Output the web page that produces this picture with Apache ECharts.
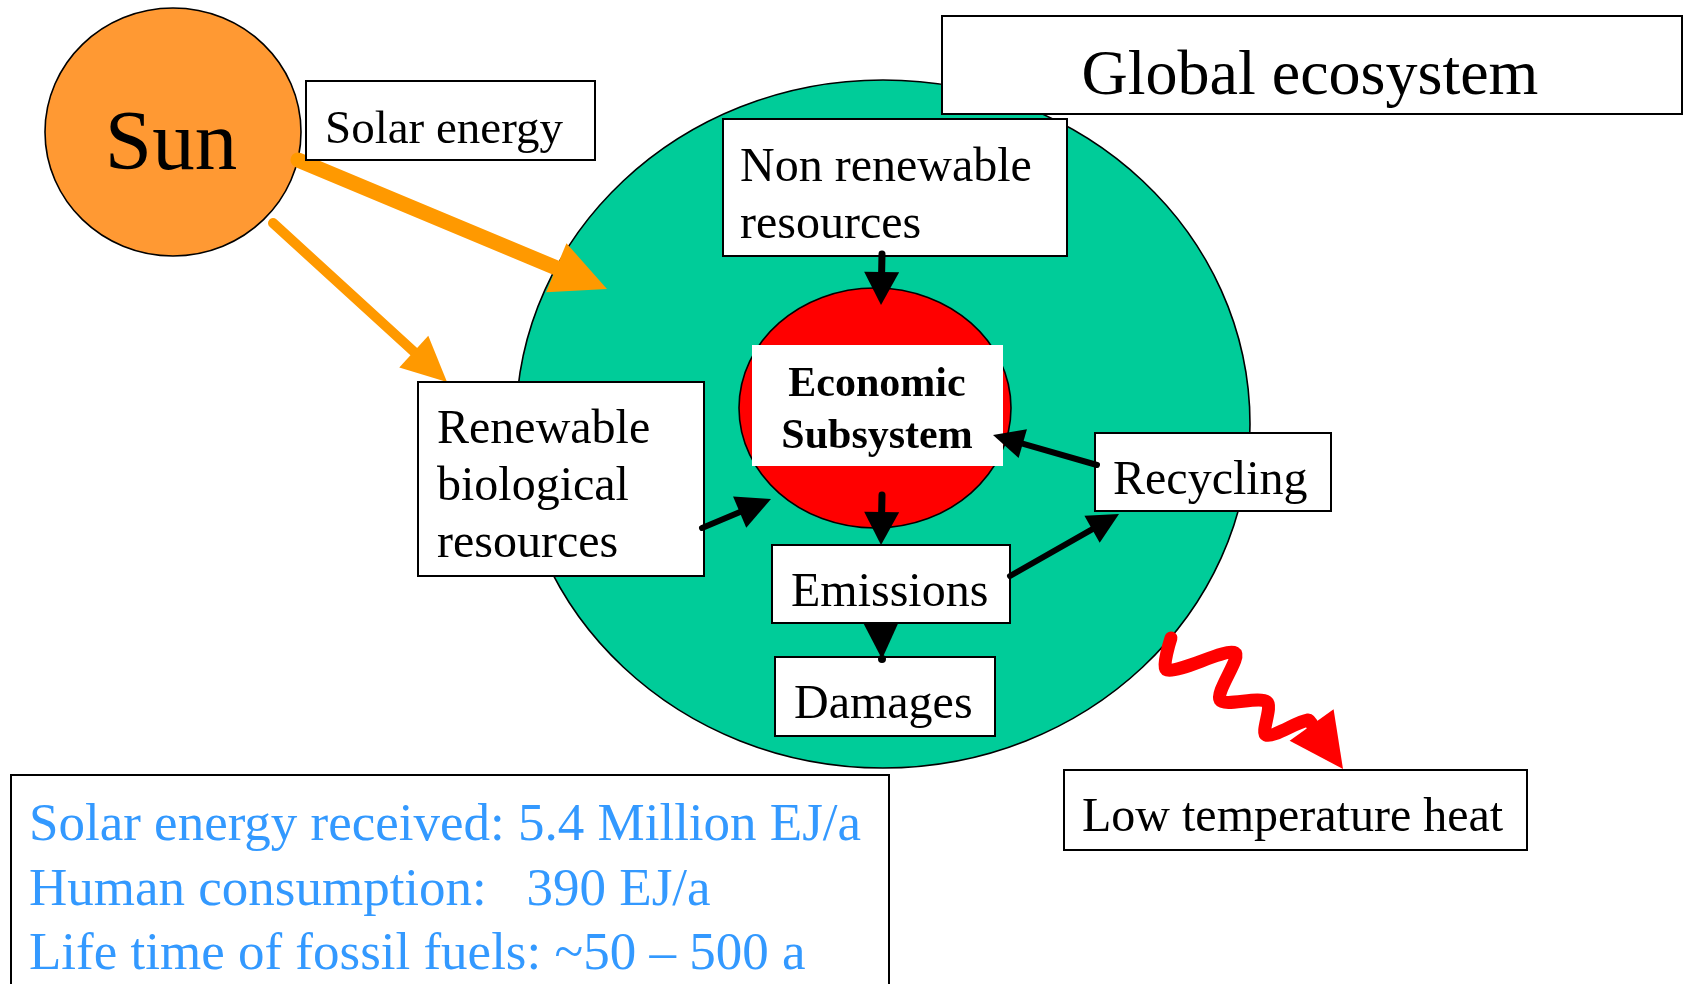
<!DOCTYPE html>
<html>
<head>
<meta charset="utf-8">
<title>Global ecosystem</title>
<script src="https://cdn.jsdelivr.net/npm/echarts@6/dist/echarts.min.js"></script>
<style>
  html, body { margin: 0; padding: 0; background: #fff; }
  #main { width: 1685px; height: 984px; }
</style>
</head>
<body>
<div id="main"></div>
<script>
  // ---- texts of the diagram ----
  const sunLabel = 'Sun'
  const titleLabel = 'Global ecosystem'
  const coreLines = ['Economic', 'Subsystem']
  const boxNames = ['solar', 'nonRenew', 'renew', 'recycling', 'emissions', 'damages', 'heat']
  const boxLines = [
    ['Solar energy'],
    ['Non renewable', 'resources'],
    ['Renewable', 'biological', 'resources'],
    ['Recycling'],
    ['Emissions'],
    ['Damages'],
    ['Low temperature heat']
  ]
  const infoLines = [
    'Solar energy received: 5.4 Million EJ/a',
    'Human consumption:   390 EJ/a',
    'Life time of fossil fuels: ~50 \u2013 500 a'
  ]
  // flows drawn as arrows: [from, to]
  const flows = [
    ['sun', 'ecosystem'],
    ['sun', 'renew'],
    ['nonRenew', 'core'],
    ['core', 'emissions'],
    ['emissions', 'damages'],
    ['renew', 'core'],
    ['recycling', 'core'],
    ['emissions', 'recycling'],
    ['ecosystem', 'heat']
  ]

  // ---- layout (page pixels, y down) ----
  const W = 1685, H = 984
  const serif = '"Liberation Serif", "Times New Roman", serif'
  const ellipses = {
    ecosystem: {cx: 883, cy: 424, rx: 367, ry: 344, fill: '#00CC99'},
    sun: {cx: 173, cy: 132, rx: 128, ry: 124, fill: '#FF9933'},
    core: {cx: 875, cy: 408, rx: 136, ry: 120, fill: '#FF0000'}
  }
  const boxRects = {
    title: [942, 16, 740, 98],
    solar: [306, 81, 289, 79],
    nonRenew: [723, 119, 344, 137],
    core: [752, 345, 251, 121],
    renew: [418, 382, 286, 194],
    recycling: [1095, 433, 236, 78],
    emissions: [772, 545, 238, 78],
    damages: [775, 657, 220, 79],
    heat: [1064, 770, 463, 80],
    info: [11, 775, 878, 230]
  }
  // [left x, baselines, font size]
  const boxText = {
    solar: [325, [141], 47],
    nonRenew: [740, [179, 236], 48],
    renew: [437, [441, 498, 555], 48],
    recycling: [1113, [492], 48],
    emissions: [791, [604], 48],
    damages: [794, [716], 48],
    heat: [1082, [829], 48]
  }
  const flowPaths = [
    {pts: [[298, 160], [607, 289]], w: 15, head: [55, 53], color: '#FF9900'},
    {pts: [[273, 223], [447, 382]], w: 10, head: [45, 43], color: '#FF9900'},
    {pts: [[882, 254], [881, 305]], w: 7, head: [33, 35], color: '#000'},
    {pts: [[882, 495], [881, 545]], w: 7, head: [33, 35], color: '#000'},
    {pts: [[881, 623], [882, 659]], w: 0, head: [36, 35], color: '#000', dot: true},
    {pts: [[702, 528], [771, 499]], w: 6, head: [34, 34], color: '#000'},
    {pts: [[1097, 465], [993, 435]], w: 6, head: [31, 30], color: '#000'},
    {pts: [[1010, 576], [1119, 514]], w: 6, head: [31, 31], color: '#000'},
    {pts: [[1171, 638], [1167, 670], [1235, 653], [1220, 700], [1267, 702], [1266, 735], [1308, 720], [1343, 769]],
      w: 13, head: [54, 54], color: '#FF0000', smooth: 0.3}
  ]

  // ---- build the ordered list of marks ----
  let elements = []
  const addBox = (key, fill, stroke) => elements.push({kind: 'box', r: boxRects[key], fill: fill, stroke: stroke})
  const addText = (text, x, y, size, opt) => elements.push(Object.assign({kind: 'text', text: text, x: x, y: y, size: size, weight: 'normal', color: '#000', align: 'left'}, opt || {}))
  const addArrow = i => elements.push(Object.assign({kind: 'arrow'}, flowPaths[i]))

  elements.push(Object.assign({kind: 'ellipse'}, ellipses.ecosystem))
  elements.push(Object.assign({kind: 'ellipse'}, ellipses.sun))
  addText(sunLabel, 171, 166, 85, {align: 'center'})
  flows.forEach((f, i) => { if (f[0] === 'sun') addArrow(i) })
  addBox('title', '#fff', '#000')
  addText(titleLabel, 1310, 92, 64, {align: 'center'})
  elements.push(Object.assign({kind: 'ellipse'}, ellipses.core))
  addBox('core', '#fff', null)
  coreLines.forEach((t, i) => addText(t, 877, [395, 447][i], 42, {align: 'center', weight: 'bold'}))
  boxNames.forEach((name, i) => {
    addBox(name, '#fff', '#000')
    const bt = boxText[name]
    boxLines[i].forEach((t, j) => addText(t, bt[0], bt[1][j], bt[2]))
  })
  flows.forEach((f, i) => { if (f[0] !== 'sun') addArrow(i) })
  addBox('info', '#fff', '#000')
  infoLines.forEach((t, i) => addText(t, 29, [838, 903, 967][i], 53, {color: '#3399FF'}))

  // ---- rendering through the chart's own axes ----
  function arrowParts(api, a) {
    const n = a.pts.length
    const tip = a.pts[n - 1], prev = a.pts[n - 2]
    const dx = tip[0] - prev[0], dy = tip[1] - prev[1]
    const d = Math.hypot(dx, dy), ux = dx / d, uy = dy / d
    const bx = tip[0] - ux * a.head[0], by = tip[1] - uy * a.head[0]
    const hw = a.head[1] / 2
    const parts = []
    if (a.w) {
      const line = a.pts.slice(0, n - 1).concat([[bx + ux * 3, by + uy * 3]]).map(p => api.coord(p))
      parts.push({type: 'polyline', shape: {points: line, smooth: a.smooth || 0},
        style: {stroke: a.color, lineWidth: a.w, fill: 'none', lineCap: 'round', lineJoin: 'round'}})
    }
    const head = [tip, [bx - uy * hw, by + ux * hw], [bx + uy * hw, by - ux * hw]].map(p => api.coord(p))
    parts.push({type: 'polygon', shape: {points: head}, style: {fill: a.color}})
    if (a.dot) {
      const c = api.coord(tip)
      parts.push({type: 'circle', shape: {cx: c[0], cy: c[1], r: 4}, style: {fill: a.color}})
    }
    return parts
  }

  function renderItem(params, api) {
    const e = elements[params.dataIndex]
    if (e.kind === 'ellipse') {
      const c = api.coord([e.cx, e.cy])
      const s = api.size([e.rx, e.ry])
      return {type: 'ellipse', shape: {cx: c[0], cy: c[1], rx: s[0], ry: s[1]},
        style: {fill: e.fill, stroke: '#000', lineWidth: 1.6}}
    }
    if (e.kind === 'box') {
      const p = api.coord([e.r[0], e.r[1]])
      const s = api.size([e.r[2], e.r[3]])
      return {type: 'rect', shape: {x: p[0], y: p[1], width: s[0], height: s[1]},
        style: {fill: e.fill, stroke: e.stroke || 'none', lineWidth: 2}}
    }
    if (e.kind === 'text') {
      // baseline -> middle of the em box
      const p = api.coord([e.x, e.y - 0.23 * e.size])
      return {type: 'text', x: p[0], y: p[1],
        style: {text: e.text, x: 0, y: 0, fill: e.color, textFill: e.color,
          font: e.weight + ' ' + e.size + 'px ' + serif,
          align: e.align, textAlign: e.align, verticalAlign: 'middle', textVerticalAlign: 'middle'}}
    }
    return {type: 'group', children: arrowParts(api, e)}
  }

  let myChart = echarts.init(document.getElementById('main'))
  myChart.setOption({
    animation: false,
    grid: {left: 0, right: 0, top: 0, bottom: 0},
    xAxis: {type: 'value', min: 0, max: W, show: false},
    yAxis: {type: 'value', min: 0, max: H, inverse: true, show: false},
    series: [{
      type: 'custom',
      coordinateSystem: 'cartesian2d',
      silent: true,
      renderItem: renderItem,
      data: elements.map((e, i) => [i, 0])
    }]
  })
  window.onresize = myChart.resize
</script>
</body>
</html>
